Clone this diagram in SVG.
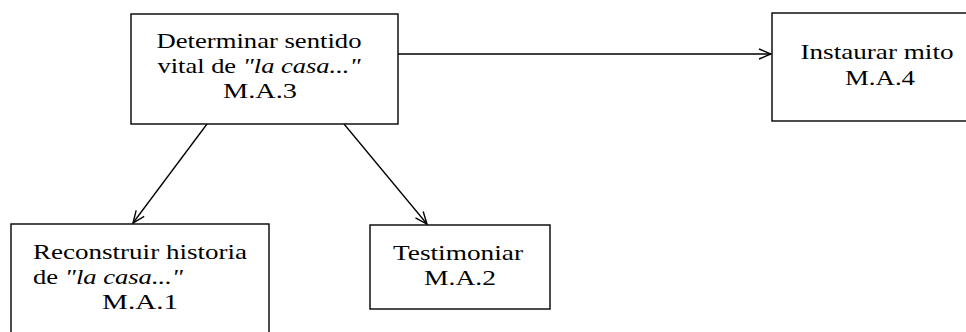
<svg xmlns="http://www.w3.org/2000/svg" width="966" height="332" viewBox="0 0 966 332">
<defs>
<style>
.box{fill:#fff;stroke:#000;stroke-width:1.4}
.t{font-family:"Liberation Serif","Times New Roman",serif;font-size:22px;fill:#000}
.c{text-anchor:middle}
.i{font-family:"Liberation Serif","DejaVu Serif",serif;font-style:italic}
.edge{fill:none;stroke:#000;stroke-width:1.3}
</style>
<marker id="arr" viewBox="0 0 14 12" refX="13" refY="6" markerWidth="14" markerHeight="12" markerUnits="userSpaceOnUse" orient="auto">
<path d="M1,1 L13,6 L1,11" fill="none" stroke="#000" stroke-width="1.4"/>
</marker>
</defs>
<rect width="966" height="332" fill="#fff"/>
<g id="n3">
<rect class="box" x="131" y="14" width="267" height="110"/>
<text class="t c" x="259" y="48" textLength="205" lengthAdjust="spacingAndGlyphs">Determinar sentido</text>
<text class="t c" x="259" y="73" textLength="203" lengthAdjust="spacingAndGlyphs">vital de <tspan class="i">"la casa..."</tspan></text>
<text class="t c" x="260" y="98" textLength="74" lengthAdjust="spacingAndGlyphs">M.A.3</text>
</g>
<g id="n4">
<rect class="box" x="772" y="13" width="200" height="108"/>
<text class="t c" x="877" y="59" textLength="153" lengthAdjust="spacingAndGlyphs">Instaurar mito</text>
<text class="t c" x="880" y="85" textLength="70" lengthAdjust="spacingAndGlyphs">M.A.4</text>
</g>
<g id="n1">
<rect class="box" x="11" y="224" width="258" height="115"/>
<text class="t" x="33" y="259" textLength="214" lengthAdjust="spacingAndGlyphs">Reconstruir historia</text>
<text class="t" x="33" y="284" textLength="150" lengthAdjust="spacingAndGlyphs">de <tspan class="i">"la casa..."</tspan></text>
<text class="t c" x="140" y="309" textLength="76" lengthAdjust="spacingAndGlyphs">M.A.1</text>
</g>
<g id="n2">
<rect class="box" x="370" y="225" width="180" height="84"/>
<text class="t c" x="458" y="260" textLength="130" lengthAdjust="spacingAndGlyphs">Testimoniar</text>
<text class="t c" x="460" y="285" textLength="72" lengthAdjust="spacingAndGlyphs">M.A.2</text>
</g>
<g id="edges">
<line class="edge" x1="398" y1="54" x2="771" y2="54" marker-end="url(#arr)"/>
<line class="edge" x1="207" y1="124" x2="133" y2="223" marker-end="url(#arr)"/>
<line class="edge" x1="344" y1="124" x2="427" y2="224" marker-end="url(#arr)"/>
</g>
</svg>
